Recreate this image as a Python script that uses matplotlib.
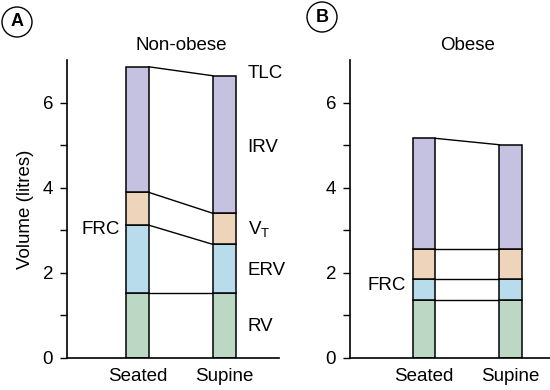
import matplotlib
matplotlib.use("Agg")
import matplotlib.pyplot as plt

plt.rcParams['font.family'] = ['Liberation Sans', 'DejaVu Sans']
plt.rcParams['font.size'] = 13.5

postures = ["Seated", "Supine"]
# boundaries (litres): RV top, FRC, FRC + VT, TLC
nonobese_rv = [1.52, 1.52]
nonobese_frc = [3.12, 2.67]
nonobese_vt_top = [3.89, 3.40]
nonobese_tlc = [6.84, 6.63]

obese_rv = [1.36, 1.36]
obese_frc = [1.85, 1.85]
obese_vt_top = [2.55, 2.55]
obese_tlc = [5.16, 5.01]

colors = ["#bcd8c4", "#b8dcec", "#eed4ba", "#c5c1e1"]
bar_w = 0.265


def draw_panel(ax, rv, frc, vt, tlc, title, xlim):
    levels = [[0, 0], rv, frc, vt, tlc]
    for i in range(2):
        for k in range(4):
            lo, hi = levels[k][i], levels[k + 1][i]
            ax.bar(i, hi - lo, bottom=lo, width=bar_w, color=colors[k],
                   edgecolor="black", linewidth=1.1, zorder=2)
    for lev in levels[1:]:
        ax.plot([bar_w / 2, 1 - bar_w / 2], lev, color="black", lw=1.0, zorder=1)
    ax.set_xlim(*xlim)
    ax.set_ylim(0, 7)
    ax.set_xticks([0, 1])
    ax.set_xticklabels(postures)
    ax.tick_params(axis="x", length=0, pad=7)
    ax.set_yticks(range(0, 7))
    ax.set_yticklabels(["0", "", "2", "", "4", "", "6"])
    ax.tick_params(axis="y", length=5, width=1, pad=5)
    ax.spines["top"].set_visible(False)
    ax.spines["right"].set_visible(False)
    ax.spines["left"].set_linewidth(1.2)
    ax.spines["bottom"].set_linewidth(1.2)
    ax.text(0.5, 7.33, title, ha="center", va="center", clip_on=False)


fig = plt.figure(figsize=(5.5, 3.9), dpi=100)
axA = fig.add_axes([67 / 550, 32 / 390, 212 / 550, 298 / 390])
axB = fig.add_axes([350 / 550, 32 / 390, 200 / 550, 298 / 390])

draw_panel(axA, nonobese_rv, nonobese_frc, nonobese_vt_top, nonobese_tlc,
           "Non-obese", (-0.81, 1.63))
draw_panel(axB, obese_rv, obese_frc, obese_vt_top, obese_tlc,
           "Obese", (-0.855, 1.457))

axA.set_ylabel("Volume (litres)", labelpad=6)

for label, y in [("TLC", 6.68), ("IRV", 4.94), ("V$_\\mathregular{T}$", 3.0),
                 ("ERV", 2.06), ("RV", 0.73)]:
    axA.text(1.27, y, label, ha="left", va="center")
axA.text(-0.2, 3.02, "FRC", ha="right", va="center")
axB.text(-0.21, 1.71, "FRC", ha="right", va="center")

for letter, (x, y) in [("A", (17, 22)), ("B", (322, 17))]:
    fig.text(x / 550, 1 - y / 390, letter, ha="center", va="center",
             fontsize=13, fontweight="bold",
             bbox=dict(boxstyle="circle,pad=0.36", fc="white", ec="black", lw=1.0))

fig.savefig("out.png", dpi=100)
